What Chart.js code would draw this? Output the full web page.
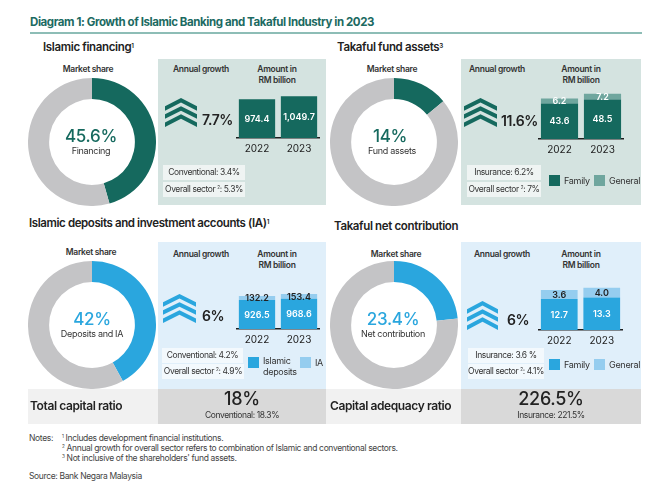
<!DOCTYPE html>
<html>
<head>
<meta charset="utf-8">
<script src="https://cdn.jsdelivr.net/npm/chart.js@4.4.1/dist/chart.umd.min.js"></script>
<style>
  html, body { margin: 0; padding: 0; background: #fff; }
  #page {
    position: relative; width: 668px; height: 493px; overflow: hidden;
    font-family: Inter, "Liberation Sans", sans-serif; color: #222;
  }
  .t { position: absolute; white-space: nowrap; line-height: 1.15; }
  .r { position: absolute; }
  canvas { position: absolute; }
  sup { font-size: 0.55em; vertical-align: 0.6em; line-height: 0; }
</style>
</head>
<body>
<div id="page"></div>
<script>
// ---- data ----
const years = ["2022", "2023"];
const financingAmount = [974.4, 1049.7];
const fundFamily = [43.6, 48.5];
const fundGeneral = [6.2, 7.2];
const depositsIslamic = [926.5, 968.6];
const depositsIA = [132.2, 153.4];
const contribFamily = [12.7, 13.3];
const contribGeneral = [3.6, 4.0];
const shareFinancing = 45.6;
const shareFundAssets = 14;
const shareDeposits = 42;
const shareContribution = 23.4;

const TEAL = "#15695e";
const TEAL_LIGHT = "#6fa69e";
const TEAL_BG = "#d4e3e0";
const BLUE = "#2aa6de";
const BLUE_LIGHT = "#95cdef";
const BLUE_BG = "#e0effa";
const GREY = "#c4c4c6";

const page = document.getElementById("page");

function text(html, x, y, size, opts = {}) {
  const d = document.createElement("div");
  d.className = "t";
  d.innerHTML = html;
  d.style.left = x + "px";
  d.style.top = y + "px";
  d.style.fontSize = size + "px";
  d.style.fontWeight = opts.weight || 400;
  d.style.color = opts.color || "#222";
  d.style.letterSpacing = (opts.ls ?? -0.3) + "px";
  const ax = opts.align === "center" ? "-50%" : opts.align === "right" ? "-100%" : "0";
  d.style.transform = `translate(${ax}, -50%)`;
  page.appendChild(d);
  return d;
}

function rect(x, y, w, h, color) {
  const d = document.createElement("div");
  d.className = "r";
  Object.assign(d.style, { left: x + "px", top: y + "px", width: w + "px", height: h + "px", background: color });
  page.appendChild(d);
  return d;
}

function chevron(x, y, w, h, color) {
  const ns = "http://www.w3.org/2000/svg";
  const svg = document.createElementNS(ns, "svg");
  svg.setAttribute("viewBox", "0 0 32 32");
  svg.setAttribute("preserveAspectRatio", "none");
  Object.assign(svg.style, { position: "absolute", left: x + "px", top: y + "px", width: w + "px", height: h + "px" });
  [0, 9, 18].forEach((oy) => {
    const p = document.createElementNS(ns, "polygon");
    p.setAttribute("points", `0,${oy + 9} 16,${oy} 32,${oy + 9} 32,${oy + 14} 16,${oy + 5} 0,${oy + 14}`);
    p.setAttribute("fill", color);
    svg.appendChild(p);
  });
  page.appendChild(svg);
}

function makeCanvas(x, y, w, h) {
  const c = document.createElement("canvas");
  c.width = w; c.height = h;
  c.style.left = x + "px"; c.style.top = y + "px";
  c.style.width = w + "px"; c.style.height = h + "px";
  page.appendChild(c);
  return c;
}

function donut(cx, cy, share, color) {
  const size = 128;
  const c = makeCanvas(cx - size / 2, cy - size / 2, size, size);
  new Chart(c, {
    type: "doughnut",
    data: {
      labels: ["Islamic", "Other"],
      datasets: [{ data: [share, 100 - share], backgroundColor: [color, GREY], borderWidth: 0 }],
    },
    options: {
      responsive: false,
      animation: false,
      cutout: "67%",
      plugins: { legend: { display: false }, tooltip: { enabled: false } },
    },
  });
}

const fmt = (v) => v.toLocaleString("en-US", { minimumFractionDigits: 1, maximumFractionDigits: 1 });

/** Draws each segment's value in the middle of its bar piece. */
const barValueLabels = {
  id: "barValueLabels",
  afterDatasetsDraw(chart) {
    const { ctx } = chart;
    ctx.save();
    ctx.textAlign = "center";
    ctx.textBaseline = "middle";
    ctx.font = "600 9px Inter, sans-serif";
    chart.data.datasets.forEach((ds, di) => {
      const meta = chart.getDatasetMeta(di);
      meta.data.forEach((bar, i) => {
        const { x, y, base } = bar.getProps(["x", "y", "base"], true);
        ctx.fillStyle = ds.labelColor || "#fff";
        ctx.fillText(fmt(ds.data[i]), x, (y + base) / 2 + 0.5);
      });
    });
    ctx.restore();
  },
};

function bars(x, baseline, w, max, datasets) {
  const areaH = 52;
  const c = makeCanvas(x, baseline - areaH, w, areaH + 18);
  new Chart(c, {
    type: "bar",
    data: {
      labels: years,
      datasets: datasets.map((d) => ({
        borderWidth: 0,
        barPercentage: 0.9,
        categoryPercentage: 0.96,
        ...d,
      })),
    },
    options: {
      responsive: false,
      animation: false,
      layout: { padding: 0 },
      plugins: { legend: { display: false }, tooltip: { enabled: false } },
      scales: {
        x: {
          stacked: true,
          offset: true,
          grid: { display: true, drawOnChartArea: false, drawTicks: false },
          border: { display: true, color: "#1e1e1e", width: 1.5 },
          ticks: { color: "#222", font: { size: 10, family: "Inter" }, padding: 5 },
        },
        y: { stacked: true, display: false, min: 0, max },
      },
    },
    plugins: [barValueLabels],
  });
}

function infoBox(x, y, w, h, html) {
  rect(x, y, w, h, "rgba(255,255,255,0.62)");
  text(html, x + w / 2, y + h / 2, 8.5, { align: "center", ls: -0.4, color: "#333" });
}

function legendItem(x, y, color, label) {
  rect(x, y, 11, 11, color);
  text(label, x + 15, y + 5.5, 9, { ls: -0.3, color: "#333" });
}

// ---- title ----
text("Diagram 1: Growth of Islamic Banking and Takaful Industry in 2023", 30, 23, 11.5,
  { weight: 700, color: "#1c6a62", ls: -0.42 });
rect(30, 32, 612, 2, "#8dbdb6");

// ---- section headings ----
text("Islamic financing<sup>1</sup>", 43, 48, 11.5, { weight: 600, ls: -0.35 });
text("Takaful fund assets<sup>3</sup>", 337, 48, 11.5, { weight: 600, ls: -0.35 });
text("Islamic deposits and investment accounts (IA)<sup>1</sup>", 29, 224, 11.5, { weight: 600, ls: -0.4 });
text("Takaful net contribution", 334, 227, 11.5, { weight: 600, ls: -0.35 });

// ---- panels ----
rect(158, 59, 168, 146, TEAL_BG);
rect(461, 59, 180, 146, TEAL_BG);
rect(158, 242, 168, 147, BLUE_BG);
rect(461, 242, 180, 147, BLUE_BG);

// ---- market share donuts ----
text("Market share", 88, 70, 8.5, { align: "center", weight: 600, color: "#333" });
text("Market share", 392, 70, 8.5, { align: "center", weight: 600, color: "#333" });
text("Market share", 91, 253, 8.5, { align: "center", weight: 600, color: "#333" });
text("Market share", 396, 255, 8.5, { align: "center", weight: 600, color: "#333" });

donut(91.5, 141.5, shareFinancing, TEAL);
donut(393.5, 141.5, shareFundAssets, TEAL);
donut(91.5, 325, shareDeposits, BLUE);
donut(393.5, 325, shareContribution, BLUE);

text("45.6%", 91, 137, 17, { align: "center", weight: 500, color: TEAL, ls: -0.3 });
text("Financing", 91, 151, 9, { align: "center", color: "#333" });
text("14%", 390, 137, 17, { align: "center", weight: 500, color: TEAL, ls: -0.3 });
text("Fund assets", 392, 151, 9, { align: "center", color: "#333" });
text("42%", 92, 320, 17, { align: "center", weight: 500, color: BLUE, ls: -0.3 });
text("Deposits and IA", 92, 334, 9, { align: "center", color: "#333" });
text("23.4%", 393, 320, 17, { align: "center", weight: 500, color: BLUE, ls: -0.3 });
text("Net contribution", 393, 334, 9, { align: "center", color: "#333" });

// ---- panel headers ----
function panelHead(gx, ax, y) {
  text("Annual growth", gx, y, 8.5, { align: "center", weight: 600, color: "#333" });
  text("Amount in", ax, y, 8.5, { align: "center", weight: 600, color: "#333" });
  text("RM billion", ax, y + 10.5, 8.5, { align: "center", weight: 600, color: "#333" });
}
panelHead(201, 277, 70);
panelHead(497, 581, 70);
panelHead(201, 277, 255);
panelHead(502, 581, 255);

// ---- growth arrows ----
chevron(165, 98, 32, 29, TEAL);
chevron(464, 98, 33, 29, TEAL);
chevron(163, 294, 33, 29, BLUE);
chevron(467, 301, 31, 29, BLUE);

text("7.7%", 202, 120, 14, { weight: 600, ls: -0.4 });
text("11.6%", 501, 121, 14, { weight: 600, ls: -0.4 });
text("6%", 202, 316, 14, { weight: 600, ls: -0.4 });
text("6%", 507, 320, 14, { weight: 600, ls: -0.4 });

// ---- amount bars ----
bars(236, 142, 84, 1210, [
  { label: "Islamic financing", data: financingAmount, backgroundColor: TEAL, labelColor: "#fff" },
]);
bars(538, 143, 86, 59, [
  { label: "Family", data: fundFamily, backgroundColor: TEAL, labelColor: "#fff" },
  { label: "General", data: fundGeneral, backgroundColor: TEAL_LIGHT, labelColor: "#fff" },
]);
bars(236, 333, 84, 1535, [
  { label: "Islamic deposits", data: depositsIslamic, backgroundColor: BLUE, labelColor: "#fff" },
  { label: "IA", data: depositsIA, backgroundColor: BLUE_LIGHT, labelColor: "#222" },
]);
bars(538, 334, 85, 19.6, [
  { label: "Family", data: contribFamily, backgroundColor: BLUE, labelColor: "#fff" },
  { label: "General", data: contribGeneral, backgroundColor: BLUE_LIGHT, labelColor: "#222" },
]);

// ---- comparison boxes ----
infoBox(163, 165, 82, 15, "Conventional: 3.4%");
infoBox(163, 182, 82, 15, "Overall sector <sup>2</sup>: 5.3%");
infoBox(467, 165, 74, 15, "Insurance: 6.2%");
infoBox(467, 182, 74, 15, "Overall sector <sup>2</sup>: 7%");
infoBox(162, 348, 81, 15, "Conventional: 4.2%");
infoBox(162, 364, 82, 15, "Overall sector <sup>2</sup>: 4.9%");
infoBox(468, 348, 76, 15, "Insurance: 3.6 %");
infoBox(468, 364, 76, 15, "Overall sector <sup>2</sup>: 4.1%");

// ---- legends ----
legendItem(549, 175, TEAL, "Family");
legendItem(594, 175, TEAL_LIGHT, "General");
rect(248, 357, 11, 11, BLUE);
text("Islamic", 263, 361, 9, { color: "#333" });
text("deposits", 263, 372, 9, { color: "#333" });
legendItem(300, 357, BLUE_LIGHT, "IA");
legendItem(549, 359, BLUE, "Family");
legendItem(594, 359, BLUE_LIGHT, "General");

// ---- capital ratios row ----
rect(28, 389, 130, 35, "#f1f1f1");
rect(158, 389, 168, 35, "#d9d9d9");
rect(326, 389, 135, 35, "#f1f1f1");
rect(461, 389, 180, 35, "#d9d9d9");
text("Total capital ratio", 30, 406, 12, { weight: 600, ls: -0.4 });
text("18%", 242, 399, 18, { align: "center", weight: 500, ls: -0.3 });
text("Conventional: 18.3%", 242, 416, 8.5, { align: "center", ls: -0.4, color: "#333" });
text("Capital adequacy ratio", 330, 406, 12, { weight: 600, ls: -0.4 });
text("226.5%", 551, 399, 18, { align: "center", weight: 500, ls: -0.3 });
text("Insurance: 221.5%", 551, 416, 8.5, { align: "center", ls: -0.4, color: "#333" });

// ---- notes ----
const noteStyle = { ls: -0.35, color: "#444" };
text("Notes:", 29, 439, 8.5, noteStyle);
text("<sup>1</sup> Includes development financial institutions.", 62, 439, 8.5, noteStyle);
text("<sup>2</sup> Annual growth for overall sector refers to combination of Islamic and conventional sectors.", 62, 449, 8.5, noteStyle);
text("<sup>3</sup> Not inclusive of the shareholders' fund assets.", 62, 459, 8.5, noteStyle);
text("Source: Bank Negara Malaysia", 29, 477, 8.5, noteStyle);
</script>
</body>
</html>
